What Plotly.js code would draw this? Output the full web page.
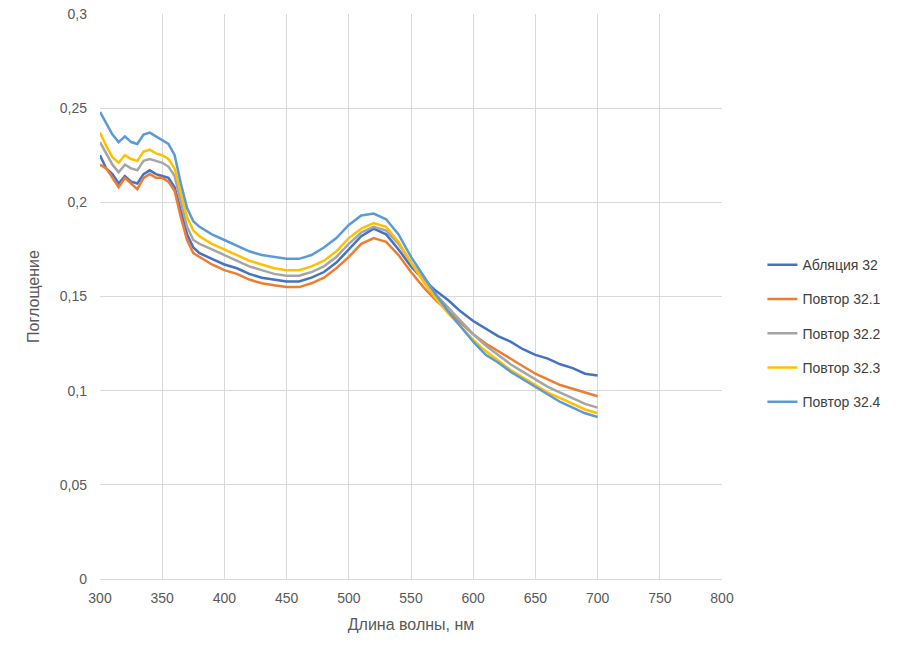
<!DOCTYPE html>
<html>
<head>
<meta charset="utf-8">
<script src="https://cdn.plot.ly/plotly-3.0.1.min.js"></script>
<style>body{margin:0;background:#fff}#chart{width:916px;height:655px}</style>
</head>
<body>
<div id="chart"></div>
<script>
var wavelengths = [300,305,310,315,320,325,330,335,340,345,350,355,360,365,370,375,380,
  390,400,410,420,430,440,450,460,470,480,490,500,510,520,530,540,
  550,560,570,580,590,600,610,620,630,640,650,660,670,680,690,700];

var ablation32 = [0.225,0.218,0.215,0.21,0.214,0.211,0.21,0.215,0.217,0.215,0.214,0.213,0.208,
  0.195,0.183,0.176,0.173,
  0.17,0.167,0.165,0.162,0.16,0.159,0.158,0.158,
  0.16,0.163,0.168,0.175,0.182,0.186,0.183,0.175,
  0.166,0.159,0.153,0.148,0.142,0.137,0.133,0.129,
  0.126,0.122,0.119,0.117,0.114,0.112,0.109,0.108];

var repeat321 = [0.22,0.218,0.213,0.208,0.213,0.21,0.207,0.213,0.215,0.213,0.213,0.211,0.206,
  0.192,0.18,0.173,0.171,
  0.167,0.164,0.162,0.159,0.157,0.156,0.155,0.155,
  0.157,0.16,0.165,0.171,0.178,0.181,0.179,0.172,
  0.163,0.155,0.148,0.142,0.136,0.13,0.125,0.121,
  0.117,0.113,0.109,0.106,0.103,0.101,0.099,0.097];

var repeat322 = [0.232,0.226,0.22,0.216,0.22,0.218,0.217,0.222,0.223,0.222,0.221,0.219,0.214,
  0.2,0.187,0.18,0.178,
  0.175,0.172,0.169,0.166,0.164,0.162,0.161,0.161,
  0.163,0.166,0.171,0.178,0.184,0.187,0.185,0.178,
  0.168,0.159,0.151,0.144,0.137,0.13,0.124,0.119,
  0.114,0.11,0.106,0.102,0.099,0.096,0.093,0.091];

var repeat323 = [0.237,0.23,0.224,0.221,0.225,0.223,0.222,0.227,0.228,0.226,0.225,0.223,0.218,
  0.205,0.192,0.185,0.182,
  0.178,0.175,0.172,0.169,0.167,0.165,0.164,0.164,
  0.166,0.169,0.174,0.181,0.186,0.189,0.187,0.179,
  0.168,0.158,0.149,0.141,0.134,0.127,0.121,0.116,
  0.111,0.107,0.103,0.099,0.096,0.093,0.09,0.088];

var repeat324 = [0.248,0.242,0.236,0.232,0.235,0.232,0.231,0.236,0.237,0.235,0.233,0.231,0.225,
  0.21,0.197,0.19,0.187,
  0.183,0.18,0.177,0.174,0.172,0.171,0.17,0.17,
  0.172,0.176,0.181,0.188,0.193,0.194,0.191,0.183,
  0.171,0.161,0.151,0.142,0.134,0.126,0.119,0.115,
  0.11,0.106,0.102,0.098,0.094,0.091,0.088,0.086];

var seriesNames = ['Абляция 32','Повтор 32.1','Повтор 32.2','Повтор 32.3','Повтор 32.4'];
var seriesData = [ablation32, repeat321, repeat322, repeat323, repeat324];
var colors = ['#4472C4','#ED7D31','#A5A5A5','#FFC000','#5B9BD5'];

var traces = seriesData.map(function (ys, i) {
    return {
        x: wavelengths,
        y: ys,
        name: seriesNames[i],
        legendgroup: 'g' + i,
        type: 'scatter',
        mode: 'lines',
        line: { color: colors[i], width: 2.5 }
    };
});

var layout = {
    width: 916,
    height: 655,
    margin: { l: 100, r: 194, t: 14, b: 76 },
    separators: ',.',
    font: { family: 'Liberation Sans, Arial, sans-serif', size: 14, color: '#595959' },
    plot_bgcolor: '#fff',
    paper_bgcolor: '#fff',
    showlegend: true,
    legend: { x: 1.065, y: 0.435, yanchor: 'middle', font: { size: 14, color: '#404040' }, tracegroupgap: 13 },
    xaxis: {
        range: [300, 800], dtick: 50, tick0: 300,
        showgrid: true, gridcolor: '#d9d9d9', zeroline: false,
        showline: true, linecolor: '#d9d9d9', ticklabelstandoff: 6,
        title: { text: 'Длина волны, нм', font: { size: 16, color: '#595959' }, standoff: 14 }
    },
    yaxis: {
        range: [0, 0.3], dtick: 0.05, tickformat: '.2~f',
        showgrid: true, gridcolor: '#d9d9d9', zeroline: false,
        showline: false, ticks: '', ticklabelstandoff: 12,
        title: { text: 'Поглощение', font: { size: 16, color: '#595959' }, standoff: 16 }
    }
};

Plotly.newPlot('chart', traces, layout, { displayModeBar: false });
</script>
</body>
</html>
